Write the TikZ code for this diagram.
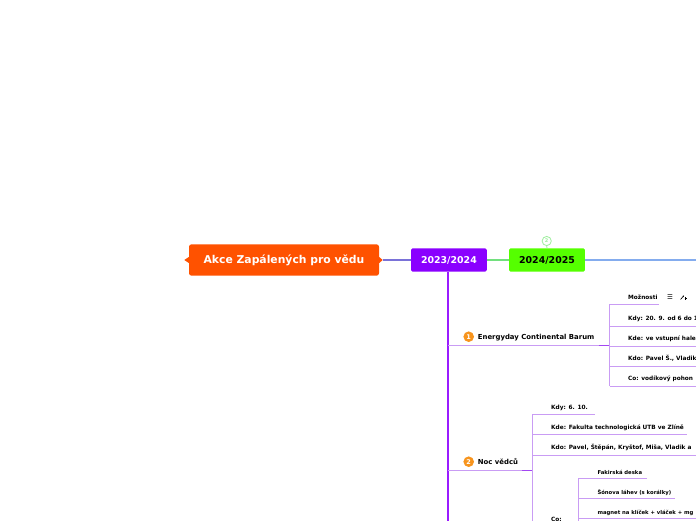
\documentclass[tikz,border=0pt]{standalone}
\usepackage{fontspec}
\setmainfont{DejaVu Sans}
\usetikzlibrary{positioning,calc,arrows.meta}
\definecolor{rootOrange}{HTML}{FF5200}
\definecolor{yearPurple}{HTML}{8A00FF}
\definecolor{yearGreen}{HTML}{55FF00}
\definecolor{rootLink}{HTML}{7A72D8}
\definecolor{greenLink}{HTML}{72E07E}
\definecolor{skyLink}{HTML}{84ACEE}
\definecolor{twigLilac}{HTML}{C99CF4}
\definecolor{jointPurple}{HTML}{A347F2}
\definecolor{spinePurple}{HTML}{9A1CFF}
\definecolor{badgeOrange}{HTML}{F7941D}
\definecolor{badgeGreen}{HTML}{9CEE9C}
\tikzset{
  rootbox/.style={
    rectangle,
    rounded corners=2.5pt,
    fill=rootOrange,
    text=white,
    minimum width=190pt,
    minimum height=31.4pt,
    inner sep=0pt,
    font=\fontsize{10.8}{12}\selectfont\bfseries
  },
  yearbox/.style={
    rectangle,
    rounded corners=1.5pt,
    minimum width=75.7pt,
    minimum height=23.4pt,
    inner sep=0pt,
    font=\fontsize{9.4}{11}\selectfont\bfseries
  },
  topic/.style={
    anchor=south west,
    inner xsep=0pt,
    inner ysep=6.4pt,
    text depth=0pt,
    font=\fontsize{6.9}{8}\selectfont\bfseries
  },
  detail/.style={
    anchor=south west,
    inner xsep=0pt,
    inner ysep=5pt,
    text depth=0pt,
    font=\fontsize{5.8}{7}\selectfont\bfseries
  },
  subdetail/.style={
    anchor=south west,
    inner xsep=0pt,
    inner ysep=4pt,
    text depth=0pt,
    font=\fontsize{5.3}{6}\selectfont\bfseries
  },
  badge/.style={
    circle,
    fill=badgeOrange,
    text=white,
    minimum size=10.6pt,
    inner sep=0pt,
    font=\fontsize{6.5}{7}\selectfont\bfseries
  },
  countbadge/.style={
    circle,
    draw=badgeGreen,
    fill=white,
    text=badgeGreen,
    line width=0.8pt,
    minimum size=9.2pt,
    inner sep=0pt,
    font=\fontsize{5}{6}\selectfont\bfseries
  },
  rootlink/.style={draw=rootLink, line width=1.1pt},
  greenlink/.style={draw=greenLink, line width=1.1pt},
  skylink/.style={draw=skyLink, line width=1.1pt},
  countlink/.style={draw=badgeGreen, line width=0.8pt},
  spine/.style={draw=spinePurple, line width=2pt},
  twig/.style={draw=twigLilac, line width=0.9pt},
  joint/.style={draw=jointPurple, line width=1.4pt},
  iconmark/.style={inner sep=0pt, font=\fontsize{6.5}{7}\selectfont}
}
\begin{document}
\begin{tikzpicture}[x=1pt,y=-1pt]
  \useasboundingbox (0,0) rectangle (696,520);
  \clip (0,0) rectangle (696,520);
  \coordinate (edge) at (700,0);
  \node[rootbox] (root) at (284,260) {Akce Zapálených pro vědu};
  \fill[rootOrange] ([yshift=3pt]root.west) -- ([xshift=-4.5pt]root.west) -- ([yshift=-3pt]root.west) -- cycle;
  \fill[rootOrange] ([yshift=3pt]root.east) -- ([xshift=3.5pt]root.east) -- ([yshift=-3pt]root.east) -- cycle;
  \node[yearbox,fill=yearPurple,text=white] (year23) at (448.9,260) {2023/2024};
  \node[yearbox,fill=yearGreen,text=black] (year24) at (547,260) {2024/2025};
  \node[countbadge] (count24) at (546.7,241) {2};
  \coordinate (spineEnd) at (448.3,530);
  \draw[rootlink] ([xshift=3.5pt]root.east) -- (year23.west);
  \draw[greenlink] (year23.east) -- (year24.west);
  \draw[skylink] (year24.east) -- (year24.east -| edge);
  \draw[countlink] (count24.south) -- (year24.north);
  \draw[spine] (year23.south -| spineEnd) -- (spineEnd);

  \node[badge] (badgeOne) at (468.7,336.7) {1};
  \node[topic] (energy) at (477.7,345.7) {Energyday Continental Barum};
  \coordinate (energyFork) at (609.5,345.7);
  \draw[twig] (spineEnd |- energy.south) -- ([xshift=4pt]energy.south east);
  \draw[joint] ([xshift=4pt]energy.south east) -- (energyFork);
  \node[detail] (options) at (628,304.3) {Možnosti};
  \node[detail] (energyWhen) at (628,326) {Kdy: 20. 9. od 6 do 1};
  \node[detail] (energyWhere) at (628,346) {Kde: ve vstupní hale};
  \node[detail] (energyWho) at (628,366) {Kdo: Pavel Š., Vladik};
  \node[detail] (energyWhat) at (628,386) {Co: vodíkový pohon};
  \node[iconmark] (optionsList) at (670,297.5) {☰};
  \draw[line width=0.6pt,-{Stealth[length=1.6pt,width=1.8pt]}] (680.5,299.5) -- (684,295.5);
  \draw[line width=0.6pt] (684.5,298.5) -- (687,298.5) (685.75,297.25) -- (685.75,299.75);
  \draw[twig] (energyFork |- options.south) -- (energyFork |- energyWhat.south);
  \draw[twig] (energyFork |- options.south) -- ([xshift=1pt]options.south east);
  \foreach \leaf in {energyWhen,energyWhere,energyWho,energyWhat}
    \draw[twig] (energyFork |- \leaf.south) -- (\leaf.south -| edge);

  \node[badge] (badgeTwo) at (468.7,461.7) {2};
  \node[topic] (night) at (477.7,470.7) {Noc vědců};
  \coordinate (nightFork) at (532,470.7);
  \draw[twig] (spineEnd |- night.south) -- ([xshift=4pt]night.south east);
  \draw[joint] ([xshift=4pt]night.south east) -- (nightFork);
  \node[detail] (nightWhen) at (551,414.3) {Kdy: 6. 10.};
  \node[detail] (nightWhere) at (551,434.3) {Kde: Fakulta technologická UTB ve Zlíně};
  \node[detail] (nightWho) at (551,455) {Kdo: Pavel, Štěpán, Kryštof, Miša, Vladik a};
  \node[detail] (nightWhat) at (551,526.5) {Co:};
  \draw[twig] (nightFork |- nightWhen.south) -- (nightFork |- nightWhat.south);
  \draw[twig] (nightFork |- nightWhen.south) -- ([xshift=7pt]nightWhen.south east);
  \draw[twig] (nightFork |- nightWhere.south) -- ([xshift=3pt]nightWhere.south east);
  \draw[twig] (nightFork |- nightWho.south) -- (nightWho.south -| edge);
  \draw[twig] (nightFork |- nightWhat.south) -- ([xshift=4pt]nightWhat.south east);

  \coordinate (showFork) at (578.3,526.5);
  \draw[joint] ([xshift=4pt]nightWhat.south east) -- (showFork);
  \node[subdetail] (fakir) at (597.3,478.3) {Fakirská deska};
  \node[subdetail] (bottle) at (597.3,498.3) {Šónova láhev (s korálky)};
  \node[subdetail] (magnet) at (597.3,518.3) {magnet na klíček + vláček + mg};
  \draw[twig] (showFork |- fakir.south) -- (showFork);
  \draw[twig] (showFork |- fakir.south) -- ([xshift=5pt]fakir.south east);
  \draw[twig] (showFork |- bottle.south) -- ([xshift=4pt]bottle.south east);
  \draw[twig] (showFork |- magnet.south) -- (magnet.south -| edge);
\end{tikzpicture}
\end{document}
